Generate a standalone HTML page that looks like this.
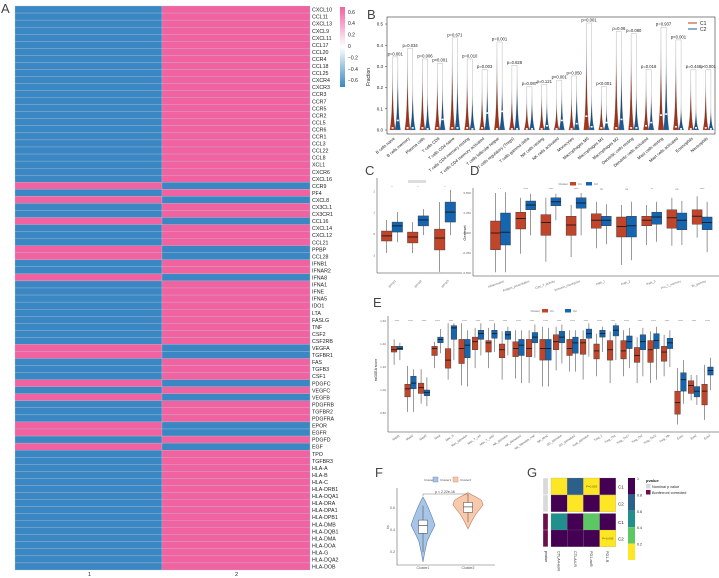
<!DOCTYPE html>
<html><head><meta charset="utf-8">
<style>
html,body{margin:0;padding:0;background:#fff;}
svg{display:block;font-family:"Liberation Sans",sans-serif;}
</style></head>
<body>
<svg id="fig" width="719" height="578" viewBox="0 0 719 578" xmlns="http://www.w3.org/2000/svg">
<defs>
<linearGradient id="gRed" x1="0" y1="1" x2="0" y2="0"><stop offset="0" stop-color="#a8361a"/><stop offset="0.5" stop-color="#7a2a1a"/><stop offset="1" stop-color="#ffffff"/></linearGradient>
<linearGradient id="gBlue" x1="0" y1="1" x2="0" y2="0"><stop offset="0" stop-color="#1a5e9c"/><stop offset="0.5" stop-color="#163d62"/><stop offset="1" stop-color="#ffffff"/></linearGradient>
<linearGradient id="gA" x1="0" y1="0" x2="0" y2="1"><stop offset="0" stop-color="#f062a0"/><stop offset="0.5" stop-color="#ffffff"/><stop offset="1" stop-color="#3a87c4"/></linearGradient>
</defs>
</svg>
<script>
// ---------- DATA ----------
const genes=["CXCL10","CCL11","CXCL13","CXCL9","CXCL11","CCL17","CCL20","CCR4","CCL18","CCL25","CXCR4","CXCR3","CCR3","CCR7","CCR5","CCR2","CCL5","CCR6","CCR1","CCL3","CCL22","CCL8","XCL1","CXCR6","CXCL16","CCR9","PF4","CXCL8","CX3CL1","CX3CR1","CCL16","CXCL14","CXCL12","CCL21","PPBP","CCL28","IFNB1","IFNAR2","IFNA8","IFNA1","IFNE","IFNA5","IDO1","LTA","FASLG","TNF","CSF2","CSF2RB","VEGFA","TGFBR1","FAS","TGFB3","CSF1","PDGFC","VEGFC","VEGFB","PDGFRB","TGFBR2","PDGFRA","EPOR","EGFR","PDGFD","EGF","TPO","TGFBR3","HLA-A","HLA-B","HLA-C","HLA-DRB1","HLA-DQA1","HLA-DRA","HLA-DPA1","HLA-DPB1","HLA-DMB","HLA-DQB1","HLA-DMA","HLA-DOA","HLA-G","HLA-DQA2","HLA-DOB"];
const highInGroup1=["CCR9","CXCL8","CCL16","PPBP","CCL28","IFNA8","VEGFA","TGFBR1","PDGFC","VEGFB","EPOR","EGFR","EGF"];
const colorbarTicksA=[0.6,0.4,0.2,0,-0.2,-0.4,-0.6];

const cellTypes=["B cells naive","B cells memory","Plasma cells","T cells CD8","T cells CD4 naive","T cells CD4 memory resting","T cells CD4 memory activated","T cells follicular helper","T cells regulatory (Tregs)","T cells gamma delta","NK cells resting","NK cells activated","Monocytes","Macrophages M0","Macrophages M1","Macrophages M2","Dendritic cells resting","Dendritic cells activated","Mast cells resting","Mast cells activated","Eosinophils","Neutrophils"];
const bMaxC1=[0.33,0.37,0.32,0.30,0.42,0.32,0.23,0.40,0.22,0.18,0.20,0.17,0.21,0.49,0.19,0.45,0.44,0.27,0.47,0.41,0.27,0.27];
const bMaxC2=[0.33,0.24,0.21,0.25,0.32,0.21,0.27,0.26,0.29,0.19,0.17,0.22,0.24,0.20,0.13,0.36,0.23,0.21,0.42,0.14,0.13,0.12];
const bMedC1=[0.01,0.01,0.01,0.01,0.01,0.01,0.01,0.005,0.005,0.005,0.005,0.005,0.005,0.065,0.01,0.01,0.01,0.02,0.07,0.015,0.005,0.01];
const bMedC2=[0.045,0.01,0.005,0.05,0.01,0.005,0.08,0.088,0.005,0.005,0.02,0.045,0.03,0.015,0.035,0.05,0.01,0.035,0.075,0.005,0.01,0.005];
const bPvals=["p=0.001","p=0.034","p=0.006","p<0.001","p=0.671","p=0.010","p=0.003","p=0.001","p=0.828","p=0.087","p=0.121","p<0.001","p=0.050","p=0.001","p<0.001","p=0.06","p=0.080","p=0.018","p=0.937","p<0.001","p=0.448","p<0.001"];
const bTicks=[0,0.1,0.2,0.3,0.4,0.5];

// box stats [min,q1,median,q3,max]
const cGroups=["group1","group2","group3"];
const cC1=[[-0.89,-0.33,-0.09,0.14,0.66],[-0.89,-0.42,-0.14,0.09,0.56],[-1.78,-0.75,-0.19,0.23,1.5]];
const cC2=[[-0.38,0.09,0.38,0.56,1.03],[-0.05,0.38,0.66,0.85,1.17],[-0.05,0.56,1.03,1.5,2.07]];
const cTicks=[-1,0,1,2];

const dGroups=["Inflammation","Antigen_presentation","Cyto_T_activity","Immune_checkpoint","Path_1","Path_2","Path_3","Pro_T_memory","Ifn_gamma"];
const dC1=[[-0.49,-0.21,0,0.15,0.5],[-0.26,0.05,0.18,0.26,0.44],[-0.36,-0.03,0.13,0.23,0.44],[-0.30,-0.03,0.10,0.21,0.35],[-0.19,0.06,0.16,0.24,0.39],[-0.40,-0.05,0.08,0.20,0.35],[-0.15,0.09,0.16,0.21,0.35],[-0.16,0.06,0.19,0.29,0.44],[-0.06,0.11,0.21,0.29,0.46]];
const dC2=[[-0.49,-0.15,0.01,0.25,0.51],[-0.03,0.29,0.35,0.40,0.49],[0.16,0.34,0.39,0.44,0.49],[-0.03,0.31,0.375,0.44,0.50],[-0.14,0.09,0.16,0.21,0.36],[-0.34,-0.05,0.09,0.21,0.39],[-0.11,0.11,0.20,0.26,0.39],[-0.15,0.04,0.16,0.25,0.40],[-0.24,0.04,0.13,0.20,0.39]];
const dTicks=[-0.5,-0.25,0,0.25,0.5];
const dStars=["*","****","****","****","ns","ns","**","ns","****"];

const eGroups=["Mast1","Mast2","Mast3","Neut","Mac_S","Mac_Stimulus","Mac_T_cell","Mac_T_cell2","NK_Stimulus","NK_Stimulus2","NK_Stimulus_rest","NK_MHC","DC_Stimulus","DC_Stimulus2","Tcell_Stimulus","Treg_1","Treg_Th1","Treg_Th17","Treg_Th2","Treg_Th22","Treg_Tfh","Eos1","Eos2","Eos3"];
const eC1=[[1.22,1.33,1.35,1.38,1.44],[0.81,0.94,1.01,1.05,1.21],[0.88,0.97,1.02,1.06,1.18],[1.19,1.30,1.36,1.38,1.42],[1.09,1.19,1.26,1.36,1.58],[1.04,1.23,1.36,1.44,1.58],[1.19,1.35,1.42,1.46,1.54],[1.19,1.33,1.41,1.43,1.54],[1.09,1.28,1.35,1.40,1.51],[1.10,1.29,1.36,1.42,1.52],[1.06,1.29,1.36,1.44,1.52],[1.03,1.26,1.36,1.44,1.55],[1.17,1.35,1.42,1.48,1.55],[1.16,1.30,1.36,1.44,1.52],[1.09,1.31,1.41,1.44,1.52],[1.12,1.27,1.34,1.40,1.49],[1.06,1.26,1.35,1.43,1.51],[1.12,1.27,1.34,1.43,1.52],[1.06,1.24,1.30,1.37,1.46],[1.06,1.24,1.35,1.43,1.51],[1.12,1.25,1.33,1.38,1.48],[0.70,0.79,0.89,0.99,1.19],[0.91,0.97,1.04,1.08,1.13],[0.74,0.87,0.99,1.05,1.22]];
const eC2=[[1.26,1.35,1.36,1.38,1.41],[0.81,1.01,1.06,1.12,1.18],[0.86,0.95,0.98,1.00,1.11],[1.32,1.41,1.44,1.46,1.53],[1.26,1.44,1.54,1.56,1.58],[1.03,1.28,1.39,1.44,1.52],[1.30,1.44,1.49,1.52,1.58],[1.33,1.45,1.49,1.52,1.58],[1.30,1.44,1.48,1.51,1.55],[1.06,1.30,1.39,1.44,1.52],[1.28,1.41,1.46,1.50,1.57],[1.03,1.26,1.36,1.44,1.54],[1.23,1.41,1.46,1.51,1.57],[1.16,1.32,1.41,1.46,1.52],[1.29,1.45,1.49,1.53,1.58],[1.33,1.46,1.49,1.52,1.55],[1.26,1.47,1.52,1.56,1.58],[1.19,1.36,1.42,1.47,1.54],[1.12,1.35,1.42,1.48,1.54],[1.09,1.36,1.43,1.49,1.55],[1.20,1.36,1.41,1.45,1.52],[0.88,0.99,1.09,1.15,1.26],[0.87,0.94,0.99,1.03,1.13],[1.0,1.13,1.17,1.20,1.28]];
const eTicks=[0.8,1.0,1.2,1.4,1.6];

const fClusters=["Cluster1","Cluster2"];
const fBox=[[0.2,0.37,0.44,0.49,0.62],[0.47,0.56,0.61,0.65,0.72]];
const fProfileVals=[[0.11,0.2,0.3,0.38,0.445,0.52,0.6,0.66,0.7],[0.41,0.48,0.55,0.6,0.63,0.67,0.7,0.72,0.74]];
const fProfileDens=[[0,0.15,0.35,0.7,1.0,0.75,0.45,0.2,0],[0,0.25,0.55,0.85,1.0,0.9,0.55,0.25,0]];
const fTicks=[0.2,0.4,0.6];

const gCols=["CTLA4-noR","CTLA4-R","PD1-noR","PD1-R"];
const gRows=["C1","C2","C1","C2"];
const gValues=[[0.05,0.7,0.003,1],[1,0.05,1,0.05],[0.5,1,0.3,1],[1,1,1,0.008]];
const gRowType=["nominal","nominal","bonferroni","bonferroni"];

// ---------- HELPERS ----------
const NS="http://www.w3.org/2000/svg";
const svg=document.getElementById('fig');
function mk(tag,attrs,name,parent){
  const el=document.createElementNS(NS,tag);
  for(const k in attrs) el.setAttribute(k,attrs[k]);
  
  
  (parent||svg).appendChild(el);
  return el;
}
function txt(x,y,s,size,name,extra){
  const a=Object.assign({x:x,y:y,'font-size':size,fill:'#222'},extra||{});
  const t=mk('text',a,name);
  t.textContent=s;
  return t;
}
function grp(name){return mk('g',{},name);}
const RED="#c0452a", BLUE="#1565b0";
function boxplot(g,cx,w,st,ys,fill,name){
  mk('line',{x1:cx,x2:cx,y1:ys(st[0]),y2:ys(st[4]),stroke:'#555','stroke-width':0.6},name+'-whisker',g);
  mk('rect',{x:cx-w/2,y:ys(st[3]),width:w,height:Math.max(0.5,ys(st[1])-ys(st[3])),fill:fill,stroke:'#333','stroke-width':0.4},name+'-box',g);
  mk('line',{x1:cx-w/2,x2:cx+w/2,y1:ys(st[2]),y2:ys(st[2]),stroke:'#111','stroke-width':0.8},name+'-median',g);
}
function panelLabel(x,y,s){txt(x,y,s,13,'panel-label-'+s.toLowerCase(),{fill:'#444'});}

// ---------- PANEL A ----------
(function(){
  const g=grp('heatmap-a');
  const top=6,bottom=570,rh=(bottom-top)/genes.length;
  const xs=[15,162,310];
  function col(v){return v>0?'#f062a0':'#3a87c4';}
  genes.forEach((gname,i)=>{
    const v1=highInGroup1.includes(gname)?0.6:-0.6;
    const vals=[v1,-v1];
    vals.forEach((v,j)=>{
      mk('rect',{x:xs[j],y:top+i*rh,width:xs[j+1]-xs[j],height:rh,fill:col(v),stroke:'#b9c4d6','stroke-width':0.3},'heatmap-cell',g);
    });
    txt(312,top+i*rh+rh*0.8,gname,5.3,'gene-label');
  });
  txt(88,576,'1',5.5,'column-label-1');
  txt(235,576,'2',5.5,'column-label-2');
  mk('rect',{x:340,y:7,width:5,height:80,fill:'url(#gA)'},'colorbar-a');
  colorbarTicksA.forEach(v=>{
    txt(348,46-v*57+2,String(v).replace('-','−'),5,'colorbar-a-tick');
  });
  panelLabel(1,13,'A');
})();

// ---------- PANEL B ----------
(function(){
  const g=grp('violin-chart-b');
  const L=387,R=715,T=17,B=134;
  const ys=v=>130-v*212;
  const step=(R-L)/cellTypes.length;
  const cx=i=>L+step*(i+0.55);
  mk('rect',{x:L,y:T,width:R-L,height:B-T,fill:'none',stroke:'#333','stroke-width':0.6},'plot-frame-b',g);
  bTicks.forEach(v=>{
    mk('line',{x1:L-2,x2:L,y1:ys(v),y2:ys(v),stroke:'#333','stroke-width':0.5},'y-tick-b',g);
    txt(L-4,ys(v)+1.6,v.toFixed(1),4.5,'y-tick-label-b',{'text-anchor':'end'});
  });
  txt(370,77,'Fraction',5,'y-axis-title-b',{transform:'rotate(-90 370 77)','text-anchor':'middle'});
  function violin(x,maxv,med,grad,name){
    const hw=2.6;
    const pts=[];
    const n=12;
    for(let k=0;k<=n;k++){const v=maxv*k/n;const w=hw*Math.exp(-4.5*k/n)+0.2*(1-k/n);pts.push([x+w,ys(v)]);}
    const left=pts.map(p=>[2*x-p[0],p[1]]).reverse();
    const d='M'+pts.concat(left).map(p=>p[0].toFixed(2)+','+p[1].toFixed(2)).join('L')+'Z';
    mk('path',{d:d,fill:grad,stroke:'#999','stroke-width':0.2},name,g);
    mk('rect',{x:x-1,y:ys(med)-0.8,width:2,height:1.6,fill:'#fff'},name+'-median',g);
  }
  cellTypes.forEach((c,i)=>{
    const x=cx(i);
    violin(x-2.6,bMaxC1[i],bMedC1[i],'url(#gRed)','violin-c1');
    violin(x+2.6,bMaxC2[i],bMedC2[i],'url(#gBlue)','violin-c2');
    const top=Math.max(bMaxC1[i],bMaxC2[i])+0.015;
    mk('path',{d:`M${x-2.6},${ys(bMaxC1[i])} V${ys(top)} H${x+2.6} V${ys(bMaxC2[i])}`,fill:'none',stroke:'#aaa','stroke-width':0.4},'p-bracket',g);
    txt(x,ys(top)-1.5,bPvals[i],4.2,'p-value-label',{'text-anchor':'middle'});
    txt(x,B+5,c,4.2,'x-tick-label-b',{'text-anchor':'end',transform:`rotate(-40 ${x} ${B+5})`});
  });
  mk('line',{x1:688,x2:697,y1:23,y2:23,stroke:'#b5401c','stroke-width':1},'legend-line-c1',g);
  txt(700,25,'C1',5,'legend-label-c1');
  mk('line',{x1:688,x2:697,y1:29,y2:29,stroke:'#1a5e9c','stroke-width':1},'legend-line-c2',g);
  txt(700,31,'C2',5,'legend-label-c2');
  panelLabel(367,19,'B');
})();

// ---------- PANEL C ----------
(function(){
  const g=grp('boxplot-chart-c');
  const ys=v=>234-v*21.3;
  const centers=[392,418,445];
  mk('path',{d:'M377,178 V273 H462',fill:'none',stroke:'#333','stroke-width':0.5},'axes-c',g);
  cTicks.forEach(v=>{txt(375,ys(v)+1,String(v),3,'y-tick-label-c',{'text-anchor':'end',fill:'#666'});});
  cGroups.forEach((n,i)=>{
    boxplot(g,centers[i]-5.3,10.5,cC1[i],ys,RED,'box-c1');
    boxplot(g,centers[i]+5.3,10.5,cC2[i],ys,BLUE,'box-c2');
    txt(centers[i],188,'*',3,'sig-star-c',{'text-anchor':'middle',fill:'#777'});
    txt(centers[i]+4,281,n,3,'x-tick-label-c',{'text-anchor':'end',transform:`rotate(-45 ${centers[i]+4} 281)`,fill:'#666'});
  });
  mk('rect',{x:408,y:180,width:18,height:3,fill:'#ddd'},'legend-c',g);
  panelLabel(365,175,'C');
})();

// ---------- PANEL D ----------
(function(){
  const g=grp('boxplot-chart-d');
  const ys=v=>233-v*80;
  mk('path',{d:'M473,188 V276 H719',fill:'none',stroke:'#333','stroke-width':0.5},'axes-d',g);
  dTicks.forEach(v=>{txt(471,ys(v)+1,v.toFixed(3),3,'y-tick-label-d',{'text-anchor':'end',fill:'#666'});});
  txt(466,233,'Geneset',4,'y-axis-title-d',{transform:'rotate(-90 466 233)','text-anchor':'middle'});
  dGroups.forEach((n,i)=>{
    const c=500.5+i*25.2;
    boxplot(g,c-5,10,dC1[i],ys,RED,'box-d-c1');
    boxplot(g,c+5,10,dC2[i],ys,BLUE,'box-d-c2');
    txt(c,190,dStars[i],3,'sig-star-d',{'text-anchor':'middle',fill:'#777'});
    txt(c+4,282,n,3,'x-tick-label-d',{'text-anchor':'end',transform:`rotate(-20 ${c+4} 282)`,fill:'#666'});
  });
  txt(568,185,'Cluster',3,'legend-title-d',{'text-anchor':'end',fill:'#666'});
  mk('rect',{x:570,y:182,width:6,height:3.5,fill:RED},'legend-key-d-c1',g);
  txt(578,185,'C1',3,'legend-label-d-c1',{fill:'#666'});
  mk('rect',{x:586,y:182,width:6,height:3.5,fill:BLUE},'legend-key-d-c2',g);
  txt(594,185,'C2',3,'legend-label-d-c2',{fill:'#666'});
  panelLabel(470,175,'D');
})();

// ---------- PANEL E ----------
(function(){
  const g=grp('boxplot-chart-e');
  const ys=v=>390-(v-1)*115;
  mk('path',{d:'M388,316 V432 H719',fill:'none',stroke:'#333','stroke-width':0.5},'axes-e',g);
  eTicks.forEach(v=>{txt(386,ys(v)+1,v.toFixed(2),3,'y-tick-label-e',{'text-anchor':'end',fill:'#666'});});
  txt(377,370,'ssGSEA score',3.5,'y-axis-title-e',{transform:'rotate(-90 377 370)','text-anchor':'middle'});
  eGroups.forEach((n,i)=>{
    const c=397+i*13.5;
    boxplot(g,c-2.9,5.6,eC1[i],ys,RED,'box-e-c1');
    boxplot(g,c+2.9,5.6,eC2[i],ys,BLUE,'box-e-c2');
    txt(c,322,'****',3,'sig-star-e',{'text-anchor':'middle',fill:'#777'});
    txt(c+3,436,n,3,'x-tick-label-e',{'text-anchor':'end',transform:`rotate(-35 ${c+3} 436)`,fill:'#555'});
  });
  txt(540,312,'Cluster',3,'legend-title-e',{'text-anchor':'end',fill:'#666'});
  mk('rect',{x:542,y:309,width:6,height:3.5,fill:RED},'legend-key-e-c1',g);
  txt(550,312,'C1',3,'legend-label-e-c1',{fill:'#666'});
  mk('rect',{x:565,y:309,width:6,height:3.5,fill:BLUE},'legend-key-e-c2',g);
  txt(573,312,'C2',3,'legend-label-e-c2',{fill:'#666'});
  panelLabel(373,307,'E');
})();

// ---------- PANEL F ----------
(function(){
  const g=grp('violin-chart-f');
  const ys=v=>530-(v-0.4)*110;
  const centers=[423,468];
  const halfW=[12,15];
  const fills=['#a7c5e6','#f9c9ab'];
  const strokes=['#5a7fae','#b9846a'];
  mk('path',{d:'M397,488 V565 H495',fill:'none',stroke:'#666','stroke-width':0.6},'axes-f',g);
  fTicks.forEach(v=>{txt(395,ys(v)+1.2,v.toFixed(1),3.5,'y-tick-label-f',{'text-anchor':'end',fill:'#555'});});
  txt(389,527,'tis',3.5,'y-axis-title-f',{transform:'rotate(-90 389 527)','text-anchor':'middle',fill:'#555'});
  fClusters.forEach((n,i)=>{
    const c=centers[i];
    const right=fProfileVals[i].map((v,k)=>[c+fProfileDens[i][k]*halfW[i],ys(v)]);
    const left=right.map(p=>[2*c-p[0],p[1]]).reverse();
    const d='M'+right.concat(left).map(p=>p[0].toFixed(2)+','+p[1].toFixed(2)).join('L')+'Z';
    mk('path',{d:d,fill:fills[i],stroke:strokes[i],'stroke-width':0.6},'violin-'+n.toLowerCase(),g);
    const st=fBox[i];
    mk('line',{x1:c,x2:c,y1:ys(st[0]),y2:ys(st[4]),stroke:'#444','stroke-width':0.5},'whisker-f',g);
    mk('rect',{x:c-4.5,y:ys(st[3]),width:9,height:ys(st[1])-ys(st[3]),fill:'#fff',stroke:'#444','stroke-width':0.5},'box-f',g);
    mk('line',{x1:c-4.5,x2:c+4.5,y1:ys(st[2]),y2:ys(st[2]),stroke:'#333','stroke-width':0.6},'median-f',g);
    txt(c,569,n,3.5,'x-tick-label-f',{'text-anchor':'middle',fill:'#555'});
  });
  mk('path',{d:'M423,496 V494 H468 V496',fill:'none',stroke:'#555','stroke-width':0.4},'p-bracket-f',g);
  txt(445,493,'p < 2.22e-16',3.5,'p-value-f',{'text-anchor':'middle',fill:'#444'});
  txt(424,481,'Cluster',3,'legend-title-f',{fill:'#555'});
  mk('rect',{x:433,y:477,width:5,height:5,fill:'#a7c5e6',stroke:'#5a7fae','stroke-width':0.4},'legend-key-f-1',g);
  txt(440,481,'Cluster1',3,'legend-label-f-1',{fill:'#555'});
  mk('rect',{x:453,y:477,width:5,height:5,fill:'#f9c9ab',stroke:'#b9846a','stroke-width':0.4},'legend-key-f-2',g);
  txt(460,481,'Cluster2',3,'legend-label-f-2',{fill:'#555'});
  panelLabel(375,477,'F');
})();

// ---------- PANEL G ----------
(function(){
  const g=grp('heatmap-g');
  function vir(v){
    if(v<=0.2) return '#fde725';
    if(v<=0.4) return '#5dc863';
    if(v<=0.6) return '#21908d';
    if(v<=0.8) return '#2c5f8a';
    return '#440154';
  }
  const x0=551,cw=16.2,rh=16.8;
  const rowY=[478,495,513.5,530];
  gRows.forEach((r,i)=>{
    mk('rect',{x:543,y:rowY[i],width:5,height:rh,fill:gRowType[i]==='nominal'?'#d9d9d9':'#6a0f4a',stroke:'#fff','stroke-width':0.3},'pvalue-annotation-cell',g);
    gCols.forEach((c,j)=>{
      const v=gValues[i][j];
      mk('rect',{x:x0+j*cw,y:rowY[i],width:cw,height:rh,fill:vir(v),stroke:'#888','stroke-width':0.2},'heatmap-g-cell',g);
      if(v<0.01){txt(x0+j*cw+cw/2,rowY[i]+rh/2+1,'P='+v.toFixed(3),3,'cell-p-label',{'text-anchor':'middle',fill:'#6b5a00'});}
    });
    txt(618,rowY[i]+rh/2+2,r,4.5,'row-label-g');
  });
  txt(545,551,'pvalue',3.8,'annotation-label-g',{transform:'rotate(90 545 551)'});
  gCols.forEach((c,j)=>{
    const x=x0+j*cw+cw/2-1.5;
    txt(x,551,c,3.8,'column-label-g',{transform:`rotate(90 ${x} 551)`});
  });
  const cb=[[1,'#440154'],[0.8,'#2c5f8a'],[0.6,'#21908d'],[0.4,'#5dc863'],[0.2,'#fde725']];
  cb.forEach((b,k)=>{
    mk('rect',{x:628,y:478+k*16.4,width:7,height:16.4,fill:b[1]},'colorbar-g-band',g);
    txt(637,480+k*16.4+ (k===0?0:0),String(b[0]),3.6,'colorbar-g-tick');
  });
  txt(646,482,'pvalue',4,'legend-title-g',{'font-weight':'bold'});
  mk('rect',{x:646,y:484,width:4.5,height:4.5,fill:'#d9d9d9'},'legend-key-nominal',g);
  txt(652,488,'Nominal p value',3.8,'legend-label-nominal');
  mk('rect',{x:646,y:490,width:4.5,height:4.5,fill:'#6a0f4a'},'legend-key-bonferroni',g);
  txt(652,494,'Bonferroni corrected',3.8,'legend-label-bonferroni');
  panelLabel(527,477,'G');
})();
</script>
</body></html>
